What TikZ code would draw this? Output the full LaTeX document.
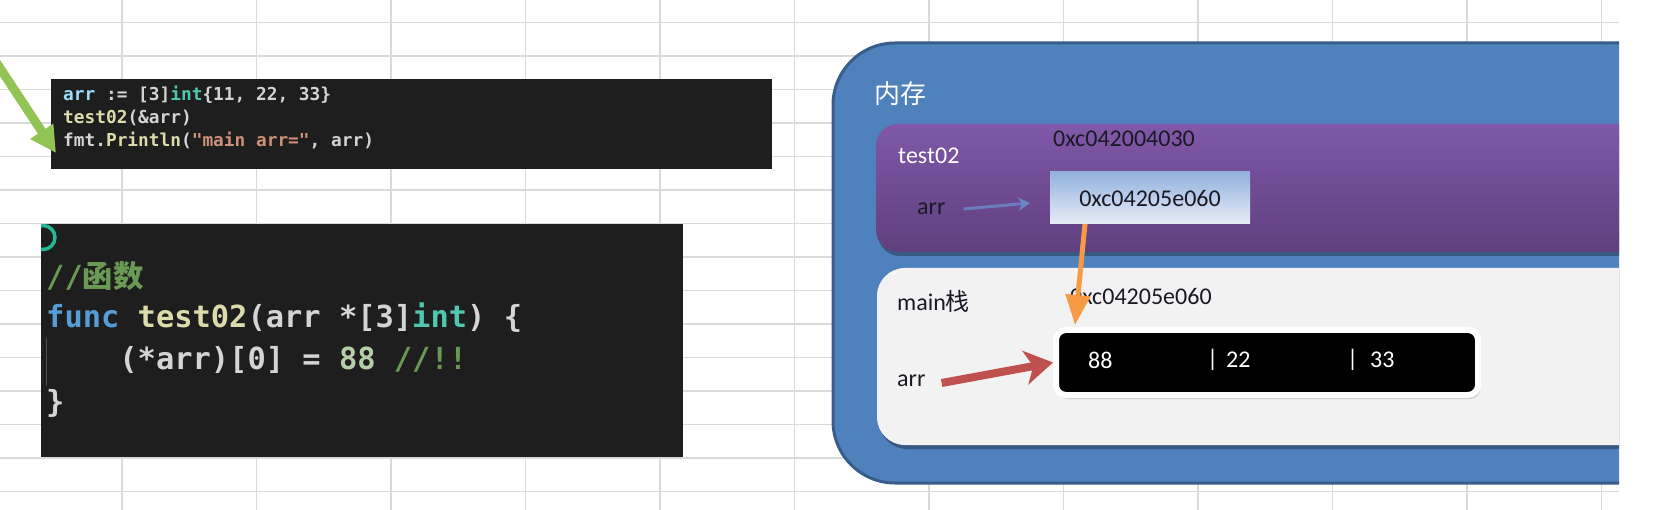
\documentclass[tikz,border=0pt]{standalone}
\usepackage{fontspec}
\setmainfont{Carlito}
\newfontfamily\cjk{Noto Sans CJK SC}
\newfontfamily\codefont{DejaVu Sans Mono}
\usetikzlibrary{arrows.meta,shadows}
\definecolor{gridgray}{HTML}{DADADA}
\definecolor{codebg}{HTML}{1E1E1E}
\definecolor{vstext}{HTML}{D4D4D4}
\definecolor{vsvar}{HTML}{9CDCFE}
\definecolor{vsfun}{HTML}{DCDCAA}
\definecolor{vstype}{HTML}{4EC9B0}
\definecolor{vsnum}{HTML}{B5CEA8}
\definecolor{vsstr}{HTML}{CE9178}
\definecolor{vscom}{HTML}{6A9955}
\definecolor{vskey}{HTML}{569CD6}
\definecolor{memblue}{HTML}{4F81BD}
\definecolor{memedge}{HTML}{385D8A}
\definecolor{purptop}{HTML}{8058A9}
\definecolor{purpbot}{HTML}{603F7E}
\definecolor{stackgray}{HTML}{F2F2F2}
\definecolor{addrtop}{HTML}{93B1DD}
\definecolor{addrbot}{HTML}{E6EDF7}
\definecolor{labeldark}{HTML}{1A1A24}
\definecolor{arrowgreen}{HTML}{92C355}
\definecolor{arroworange}{HTML}{F79A45}
\definecolor{arrowred}{HTML}{C0504D}
\definecolor{arrowblue}{HTML}{6B8FD0}
\definecolor{ringteal}{HTML}{22B892}
\newcommand\cv[1]{\textcolor{vsvar}{#1}}
\newcommand\cf[1]{\textcolor{vsfun}{#1}}
\newcommand\ct[1]{\textcolor{vstype}{#1}}
\newcommand\cn[1]{\textcolor{vsnum}{#1}}
\newcommand\cs[1]{\textcolor{vsstr}{#1}}
\newcommand\cc[1]{\textcolor{vscom}{#1}}
\newcommand\ck[1]{\textcolor{vskey}{#1}}
\tikzset{
  gridline/.style={draw=gridgray, line width=1.5},
  codebox/.style={fill=codebg, inner sep=0, outer sep=0, anchor=north west},
  codeS/.style={font=\codefont\bfseries\fontsize{17.8}{20}\selectfont, anchor=west, inner sep=0, text=vstext},
  codeL/.style={font=\codefont\bfseries\fontsize{30.4}{34}\selectfont, anchor=west, inner sep=0, text=vstext},
  lbl/.style={font=\fontsize{24}{28}\selectfont, anchor=west, inner sep=0, text=labeldark},
  val/.style={font=\fontsize{24}{28}\selectfont, anchor=west, inner sep=0, text=white},
  frame/.style={inner sep=0, outer sep=0, anchor=north west},
}
\begin{document}
\begin{tikzpicture}[x=1pt,y=-1pt]
\useasboundingbox (0,0) rectangle (1654,510);
\fill[white] (0,0) rectangle (1654,510);
% spreadsheet grid
\foreach \i in {0,...,11} \draw[gridline] ({122+134.5*\i},0) -- ({122+134.5*\i},510);
\foreach \i in {0,...,14} \draw[gridline] (0,{22.5+33.5*\i}) -- (1619,{22.5+33.5*\i});

% code box 1
\node[codebox, minimum width=721, minimum height=90] (code1) at (51,79) {};
\node[codeS] (c1a) at (63,95) {\cv{arr} := [3]\ct{int}\{11, 22, 33\}};
\node[codeS] (c1b) at (63,118) {\cf{test02}(\&arr)};
\node[codeS] (c1c) at (63,141) {fmt.\cf{Println}(\cs{"main arr="}, arr)};
% green arrow
\coordinate (gtail) at (-4,62);
\coordinate (gtip) at (56,153);
\draw[arrowgreen, line width=9, -{Triangle[length=26,width=26]}] (gtail) -- (gtip);

% code box 2
\node[codebox, minimum width=642, minimum height=233] (code2) at (41,224) {};
\begin{scope}
\clip (41,224) rectangle (683,457);
\draw[ringteal, line width=3.5] (43,237.5) circle (12);
\end{scope}
\draw[draw=black!70, line width=1] (46,338) -- (46,386);
\node[codeL] (c2a) at (46,276) {\cc{//{\cjk 函数}}};
\node[codeL] (c2b) at (46,318) {\ck{func} \cf{test02}(arr *[3]\ct{int}) \{};
\node[codeL] (c2c) at (46,360) {\phantom{0000}(*arr)[0] = \cn{88} \cc{//!!}};
\node[codeL] (c2d) at (46,403) {\}};

% memory diagram
\begin{scope}
\clip (0,0) rectangle (1619,510);
\draw[fill=memblue, draw=memedge, line width=3, rounded corners=62] (833,43) rectangle (1700,483);
\fill[black, opacity=0.3, rounded corners=22] (878,128) rectangle (1700,256);
\node[frame, rounded corners=22, top color=purptop, bottom color=purpbot, minimum width=824, minimum height=128] (test02box) at (876,124) {};
\fill[black, opacity=0.3, rounded corners=28] (879,271) rectangle (1700,449);
\node[frame, rounded corners=28, fill=stackgray, minimum width=823, minimum height=177] (mainbox) at (877,268) {};
\end{scope}

\node[font=\cjk\fontsize{26}{30}\selectfont, text=white, anchor=west, inner sep=0] (memlbl) at (874,94) {内存};
\node[lbl, text=white] (t02) at (898,156) {test02};
\node[lbl] (addr1) at (1053,139) {0xc042004030};
\node[lbl] (arr1) at (917,209) {arr};
\node[frame, top color=addrtop, bottom color=addrbot, minimum width=200, minimum height=52, font=\fontsize{24}{28}\selectfont, text=labeldark] (addrbox) at (1050,172) {0xc04205e060};
\draw[arrowblue, opacity=0.75, line width=3, -{Stealth[length=12,width=14]}] ([xshift=18]arr1.east) -- ([xshift=-20,yshift=-5]addrbox.west);

\node[lbl] (mainlbl) at (897,301) {main{\cjk 栈}};
\node[lbl] (addr2) at (1070,296) {0xc04205e060};
\node[lbl] (arr2) at (897,381) {arr};
\node[draw=white, line width=6, fill=black, rounded corners=10, minimum width=422, minimum height=65, inner sep=0, drop shadow={shadow xshift=2pt, shadow yshift=-4pt, opacity=0.35}] (arrbox) at (1267,362.5) {};
\node[val] (v1) at (1088,360) {88};
\node[val] (s1) at (1207,360) {|};
\node[val] (v2) at (1226,360) {22};
\node[val] (s2) at (1347,360) {|};
\node[val] (v3) at (1370,360) {33};

\draw[arroworange, line width=5, -{Triangle[length=30,width=24]}] ([xshift=35]addrbox.south west) -- ([xshift=22,yshift=2]arrbox.north west);
\draw[arrowred, line width=8, -{Stealth[length=28,width=34,inset=8]}] ([xshift=16,yshift=-2]arr2.east) -- (arrbox.west);
\end{tikzpicture}
\end{document}
